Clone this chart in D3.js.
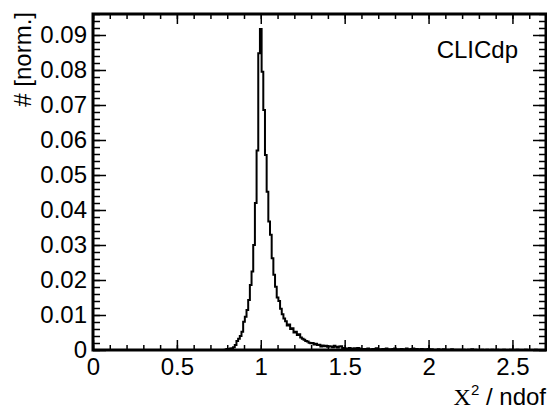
<!DOCTYPE html>
<html lang="en">
<head>
<meta charset="utf-8">
<title>chi2 / ndof</title>
<script src="https://d3js.org/d3.v7.min.js"></script>
<style>
body { margin: 0; background: #fff; }
svg text { font-family: "Liberation Sans", Arial, sans-serif; fill: #000; }
.axis path { display: none; }
.axis line { stroke: #000; stroke-width: 1.5; }
.axis text { font-size: 24px; }
</style>
</head>
<body>
<svg id="chart" width="547" height="408"></svg>
<script>
// histogram: 0.01 wide bins, values given at bin centres
var binWidth = 0.01;
var coreStart = 0.79;
var coreValues = [
  0.0001, 0.0003, 0.0002, 0.0004, 0.0005, 0.0008, 0.0014, 0.0026, 0.0032, 0.0040,
  0.0052, 0.0081, 0.0095, 0.0114, 0.0143, 0.0186, 0.0224, 0.0300, 0.0420, 0.0570,
  0.0848, 0.0917, 0.0795, 0.0686, 0.0557, 0.0452, 0.0367, 0.0329, 0.0262, 0.0215,
  0.0181, 0.0150, 0.0140, 0.0118, 0.0102, 0.0090, 0.0082, 0.0070, 0.0073, 0.0060,
  0.0062, 0.0050, 0.0052, 0.0043, 0.0045, 0.0036, 0.0032, 0.0029, 0.0026, 0.0024,
  0.0021, 0.0019, 0.0020, 0.0016, 0.0018, 0.0014, 0.0015, 0.0010, 0.0013, 0.0011,
  0.0012, 0.0009, 0.0011, 0.0010, 0.0008, 0.0012, 0.0009, 0.0007, 0.0010, 0.0011,
  0.0006, 0.0005
];
var tailStart = 1.51;
var tailValues = [
  0.0004, 0.0003, 0.0006, 0.0004, 0.0002, 0.0005, 0.0003, 0.0006, 0.0004, 0.0003,
  0.0002, 0.0003, 0.0001, 0.0004, 0.0002, 0.0002, 0.0003, 0.0001, 0.0005, 0.0002,
  0.0002, 0.0001, 0.0003, 0.0002, 0.0004, 0.0001, 0.0002, 0.0001, 0.0003, 0.0004,
  0.0001, 0.0002, 0.0001, 0.0003, 0.0001, 0.0002, 0.0004, 0.0001, 0.0002, 0.0003,
  0.0004, 0.0001, 0.0003, 0.0002, 0.0001, 0.0003, 0.0001, 0.0002, 0.0001, 0.0003,
  0.0001, 0.0002, 0.0001, 0.0001, 0, 0.0002, 0.0001, 0.0001, 0.0002, 0,
  0.0001, 0, 0.0001, 0.0002, 0, 0.0001, 0, 0.0001, 0.0001, 0,
  0.0001, 0, 0, 0.0001, 0, 0.0002, 0, 0.0001, 0, 0,
  0, 0.0001, 0, 0, 0.0001, 0, 0, 0.0001, 0, 0,
  0.0001, 0, 0, 0, 0.0001, 0, 0, 0, 0.0001, 0,
  0, 0, 0.0001, 0, 0, 0, 0, 0.0001, 0, 0,
  0, 0, 0, 0.0001, 0, 0, 0, 0, 0
];
var xTicks = [0, 0.5, 1, 1.5, 2, 2.5];
var yTicks = [0, 0.01, 0.02, 0.03, 0.04, 0.05, 0.06, 0.07, 0.08, 0.09];

(function() {
var svg = d3.select('#chart');
var left = 93, right = 546, top = 14, bottom = 350;

var x = d3.scaleLinear().domain([0, 2.7]).range([left, right]);
var y = d3.scaleLinear().domain([0, 0.096]).range([bottom, top]);

var xMinor = d3.range(0, 2.7001, 0.1).map(function(d) { return +d.toFixed(2); });
var yMinor = d3.range(0, 0.0961, 0.002).map(function(d) { return +d.toFixed(4); });

function yFmt(d) { return d === 0 ? '0' : d.toFixed(2); }

// bottom axis (ticks point inward)
svg.append('g').attr('class', 'axis')
  .attr('transform', 'translate(0,' + bottom + ')')
  .call(d3.axisBottom(x).tickValues(xMinor).tickSize(-5).tickFormat(''));
svg.append('g').attr('class', 'axis')
  .attr('transform', 'translate(0,' + bottom + ')')
  .call(d3.axisBottom(x).tickValues(xTicks).tickSize(-10).tickPadding(8)
    .tickFormat(function(d) { return String(d); }));
// top axis
svg.append('g').attr('class', 'axis')
  .attr('transform', 'translate(0,' + top + ')')
  .call(d3.axisTop(x).tickValues(xMinor).tickSize(-5).tickFormat(''));
svg.append('g').attr('class', 'axis')
  .attr('transform', 'translate(0,' + top + ')')
  .call(d3.axisTop(x).tickValues(xTicks).tickSize(-10).tickFormat(''));
// left axis
svg.append('g').attr('class', 'axis')
  .attr('transform', 'translate(' + left + ',0)')
  .call(d3.axisLeft(y).tickValues(yMinor).tickSize(-7).tickFormat(''));
svg.append('g').attr('class', 'axis')
  .attr('transform', 'translate(' + left + ',0)')
  .call(d3.axisLeft(y).tickValues(yTicks).tickSize(-13).tickPadding(6).tickFormat(yFmt));
// right axis
svg.append('g').attr('class', 'axis')
  .attr('transform', 'translate(' + right + ',0)')
  .call(d3.axisRight(y).tickValues(yMinor).tickSize(-7).tickFormat(''));
svg.append('g').attr('class', 'axis')
  .attr('transform', 'translate(' + right + ',0)')
  .call(d3.axisRight(y).tickValues(yTicks).tickSize(-13).tickFormat(''));

// histogram outline
var pts = [[0, 0], [coreStart - binWidth / 2, 0]];
coreValues.forEach(function(v, i) { pts.push([coreStart - binWidth / 2 + i * binWidth, v]); });
tailValues.forEach(function(v, i) { pts.push([tailStart - binWidth / 2 + i * binWidth, v]); });
pts.push([2.7, 0]);

var line = d3.line()
  .x(function(d) { return x(d[0]); })
  .y(function(d) { return y(d[1]); })
  .curve(d3.curveStepAfter);

svg.append('path')
  .datum(pts)
  .attr('d', line)
  .attr('fill', 'none')
  .attr('stroke', '#000')
  .attr('stroke-width', 2);

// frame
svg.append('rect')
  .attr('x', left).attr('y', top)
  .attr('width', right - left).attr('height', bottom - top)
  .attr('fill', 'none').attr('stroke', '#000').attr('stroke-width', 3);

// titles
svg.append('text')
  .attr('transform', 'translate(31,12) rotate(-90)')
  .attr('text-anchor', 'end')
  .attr('font-size', '24px')
  .text('# [norm.]');

var xt = svg.append('text')
  .attr('x', right).attr('y', 405)
  .attr('text-anchor', 'end')
  .attr('font-size', '24px');
xt.append('tspan').attr('font-family', '"Liberation Serif", "Times New Roman", serif').text('X');
xt.append('tspan').attr('font-size', '15px').attr('dy', -10).text('2');
xt.append('tspan').attr('dy', 10).text(' / ndof');

svg.append('text')
  .attr('x', 518).attr('y', 58)
  .attr('text-anchor', 'end')
  .attr('font-size', '24px')
  .text('CLICdp');
})();
</script>
</body>
</html>
